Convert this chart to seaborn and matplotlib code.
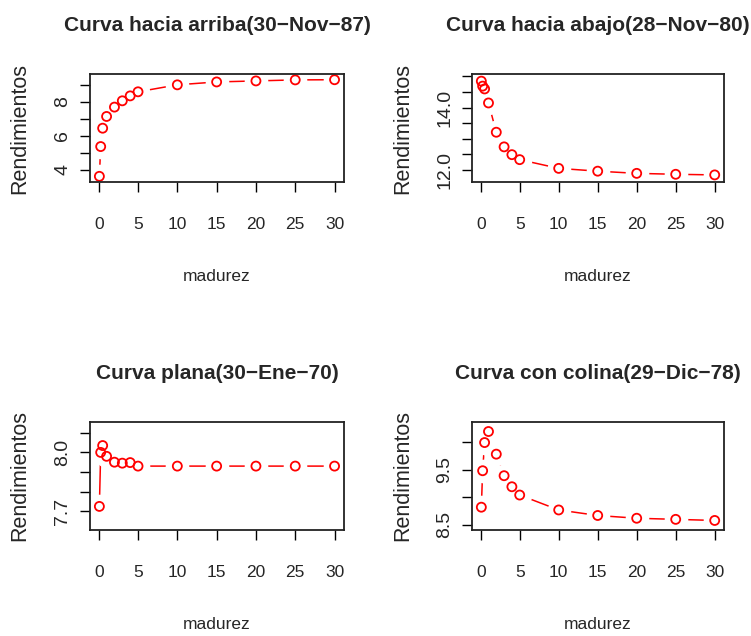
import numpy as np
import pandas as pd
import matplotlib
matplotlib.use("Agg")
import matplotlib.pyplot as plt
from matplotlib import font_manager as fm
import seaborn as sns

# maturities (years) shared by the four curves
madurez = [0.083, 0.25, 0.5, 1, 2, 3, 4, 5, 10, 15, 20, 25, 30]

arriba = [3.62, 5.37, 6.45, 7.14, 7.69, 8.06, 8.35, 8.59, 9.00, 9.17, 9.23, 9.29, 9.30]
abajo = [14.85, 14.69, 14.60, 14.15, 13.21, 12.74, 12.49, 12.33, 12.05, 11.96, 11.89, 11.86, 11.84]
plana = [7.724, 8.00, 8.035, 7.98, 7.95, 7.945, 7.948, 7.93, 7.93, 7.93, 7.93, 7.93, 7.93]
colina = [8.82, 9.48, 9.99, 10.19, 9.78, 9.39, 9.19, 9.04, 8.77, 8.67, 8.62, 8.60, 8.58]

titulos = ["Curva hacia arriba(30\u2212Nov\u221287)", "Curva hacia abajo(28\u2212Nov\u221280)",
           "Curva plana(30\u2212Ene\u221270)", "Curva con colina(29\u2212Dic\u221278)"]

x_ticks = [0, 5, 10, 15, 20, 25, 30]
y_ticks = [[4, 5, 6, 7, 8, 9],
           [12.0, 12.5, 13.0, 13.5, 14.0, 14.5, 15.0],
           [7.7, 7.8, 7.9, 8.0, 8.1],
           [8.5, 9.0, 9.5, 10.0]]
y_labels = [["4", "", "6", "", "8", ""],
            ["12.0", "", "", "", "14.0", "", ""],
            ["7.7", "", "", "8.0", ""],
            ["8.5", "", "9.5", ""]]

sns.set_theme(style="ticks")
names = {f.name for f in fm.fontManager.ttflist}
regular = "Liberation Sans" if "Liberation Sans" in names else "DejaVu Sans"
plt.rcParams["font.family"] = [regular, "DejaVu Sans"]

fig = plt.figure(figsize=(7.51, 6.36), dpi=100)
boxes = [[0.1198, 0.7138, 0.3382, 0.1698],
         [0.6285, 0.7138, 0.3356, 0.1698],
         [0.1198, 0.1667, 0.3382, 0.1698],
         [0.6285, 0.1667, 0.3356, 0.1698]]

for i, vals in enumerate([arriba, abajo, plana, colina]):
    ax = fig.add_axes(boxes[i])
    df = pd.DataFrame({"madurez": madurez, "rend": vals})
    sns.lineplot(data=df, x="madurez", y="rend", color="red", linewidth=1.1, ax=ax)
    # white discs break the line around each point (R type="b")
    ax.scatter(df["madurez"], df["rend"], s=17 ** 2, c="white", linewidths=0, zorder=10)
    ax.scatter(df["madurez"], df["rend"], s=6.5 ** 2, facecolors="none",
               edgecolors="red", linewidths=1.3, zorder=11)

    lo, hi = min(vals) - 0.1, max(vals) + 0.1
    pad = 0.04 * (hi - lo)
    ax.set_ylim(lo - pad, hi + pad)
    xpad = 0.04 * (max(madurez) - min(madurez))
    ax.set_xlim(min(madurez) - xpad, max(madurez) + xpad)

    ax.set_xticks(x_ticks)
    ax.set_xticklabels([str(t) for t in x_ticks], fontsize=12.5)
    ax.set_yticks(y_ticks[i])
    ax.set_yticklabels(y_labels[i], rotation=90, va="center", fontsize=14)
    ax.tick_params(axis="both", length=7.5, width=1.0, color="black", direction="out")
    ax.tick_params(axis="x", pad=17.5)
    ax.tick_params(axis="y", pad=6)
    for sp in ax.spines.values():
        sp.set_visible(True)
        sp.set_color("#222222")
        sp.set_linewidth(1.3)
        sp.set_zorder(12)

    ax.set_xlabel("madurez", fontsize=12.5)
    ax.xaxis.set_label_coords(0.5, -0.81)
    ax.set_ylabel("Rendimientos", fontsize=15.5)
    ax.yaxis.set_label_coords(-0.235, 0.5)
    ax.set_title(titulos[i], fontsize=15, fontweight="bold", pad=31)
    ax.grid(False)

fig.savefig("out.png", dpi=100, facecolor="white")
